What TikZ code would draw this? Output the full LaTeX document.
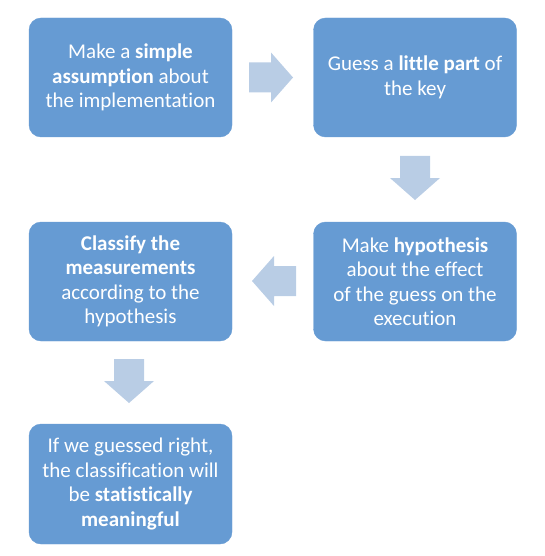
\documentclass[tikz,border=0pt]{standalone}
\usepackage{fontspec}
\setmainfont{Carlito}[Ligatures={NoCommon}]
\definecolor{boxblue}{RGB}{102,155,211}
\definecolor{arrowblue}{RGB}{185,205,229}
\begin{document}
\begin{tikzpicture}[x=1pt,y=-1pt,
  stepbox/.style={rectangle, rounded corners=12pt, fill=boxblue, draw=boxblue,
    minimum width=203pt, minimum height=119pt, inner sep=0pt,
    align=center, text=white, font=\fontsize{21}{24.5}\selectfont},
  blockarrow/.pic={\fill[arrowblue] (-22,-15) -- (0,-15) -- (0,-25) -- (22,0) -- (0,25) -- (0,15) -- (-22,15) -- cycle;}]
\useasboundingbox (0,0) rectangle (545,556);
\node[stepbox] (a) at (130.5,77.5) {Make a \textbf{simple}\\\textbf{assumption} about\\the implementation};
\node[stepbox] (b) at (415,77.5) {Guess a \textbf{little part} of\\the key};
\node[stepbox] (c) at (415,281.5) {Make \textbf{hypothesis}\\about the effect\\of the guess on the\\execution};
\node[stepbox] (d) at (130.5,281.5) {\textbf{Classify the}\\\textbf{measurements}\\according to the\\hypothesis};
\node[stepbox, minimum height=120pt] (e) at (130.5,484) {If we guessed right,\\the classification will\\be \textbf{statistically}\\\textbf{meaningful}};
\coordinate (ab) at (271,77.5);
\coordinate (bc) at (415,178);
\coordinate (cd) at (274,281);
\coordinate (de) at (129,381);
\pic at (ab) {blockarrow};
\pic[rotate=-90] at (bc) {blockarrow};
\pic[rotate=180] at (cd) {blockarrow};
\pic[rotate=-90] at (de) {blockarrow};
\end{tikzpicture}
\end{document}
